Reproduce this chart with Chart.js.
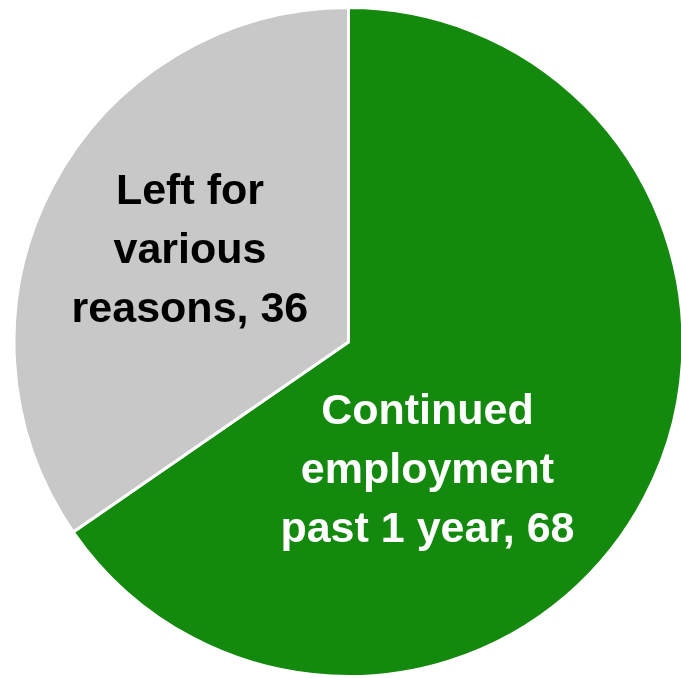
<!DOCTYPE html>
<html lang="en">
<head>
    <meta charset="UTF-8">
    <title>Employment after 1 year</title>
    <script src="https://cdn.jsdelivr.net/npm/chart.js"></script>
    <style>
        html, body {
            margin: 0;
            padding: 0;
            background: #ffffff;
            overflow: hidden;
        }
        .frame {
            position: relative;
            width: 681px;
            height: 678px;
            overflow: hidden;
        }
        .chart-container {
            position: absolute;
            left: 0;
            top: 6px;
            width: 697px;
            height: 672px;
        }
    </style>
</head>
<body>
    <div class="frame">
        <div class="chart-container">
            <canvas id="pieChart"></canvas>
        </div>
    </div>

    <script>
        const categories = ['Continued employment past 1 year', 'Left for various reasons'];
        const values = [68, 36];
        const labelLines = [
            ['Continued', 'employment', 'past 1 year, 68'],
            ['Left for', 'various', 'reasons, 36']
        ];
        const colors = ['#13890d', '#c8c8c8'];
        const textColors = ['#ffffff', '#000000'];

        // middle-line baseline of each label, as a fraction of the radius from the pie centre
        const labelOffsets = [[0.236, 0.4215], [-0.474, -0.236]];

        const sliceLabels = {
            id: 'sliceLabels',
            afterDatasetsDraw(chart) {
                const ctx = chart.ctx;
                const arcs = chart.getDatasetMeta(0).data;
                ctx.save();
                ctx.font = 'bold 43px "Liberation Sans", Arial, sans-serif';
                ctx.textAlign = 'center';
                ctx.textBaseline = 'alphabetic';
                const lineH = 59;
                arcs.forEach((arc, i) => {
                    const r = arc.outerRadius;
                    const cx = arc.x + labelOffsets[i][0] * r;
                    const cy = arc.y + labelOffsets[i][1] * r;
                    const lines = labelLines[i];
                    ctx.fillStyle = textColors[i];
                    lines.forEach((line, j) => {
                        const y = cy + (j - (lines.length - 1) / 2) * lineH;
                        ctx.fillText(line, cx, y);
                    });
                });
                ctx.restore();
            }
        };

        const ctx = document.getElementById('pieChart').getContext('2d');
        new Chart(ctx, {
            type: 'pie',
            data: {
                labels: categories,
                datasets: [{
                    data: values,
                    backgroundColor: colors,
                    borderColor: '#ffffff',
                    borderWidth: 3
                }]
            },
            options: {
                responsive: true,
                maintainAspectRatio: false,
                animation: false,
                layout: { padding: 0 },
                plugins: {
                    legend: { display: false },
                    tooltip: { enabled: false }
                }
            },
            plugins: [sliceLabels]
        });
    </script>
</body>
</html>
